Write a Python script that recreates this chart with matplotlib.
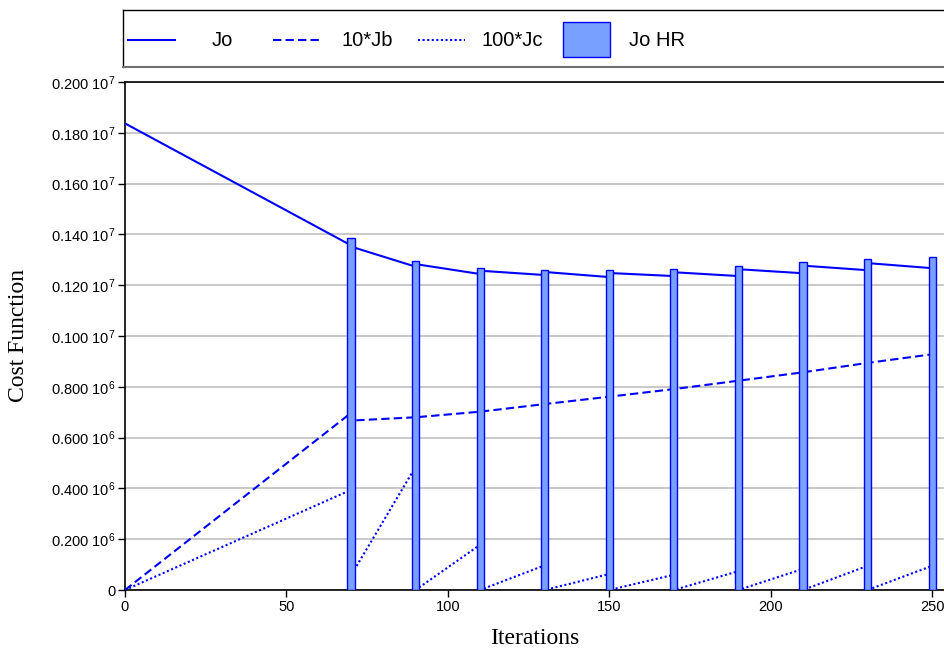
import matplotlib
matplotlib.use('Agg')
from matplotlib import pyplot as plt
from matplotlib.patches import Rectangle

plt.rcParams['font.family'] = ['Liberation Sans', 'DejaVu Sans']
plt.rcParams['mathtext.fontset'] = 'custom'
plt.rcParams['mathtext.rm'] = 'Liberation Sans'

# outer loops: each restart shows up as a repeated iteration number
iterations = [0, 70, 70, 90, 90, 110, 110, 130, 130, 150, 150,
              170, 170, 190, 190, 210, 210, 230, 230, 250]
jo = [1.837e6, 1.357e6, 1.352e6, 1.273e6, 1.283e6, 1.244e6, 1.257e6, 1.240e6, 1.252e6, 1.232e6,
      1.248e6, 1.236e6, 1.251e6, 1.236e6, 1.263e6, 1.247e6, 1.277e6, 1.259e6, 1.287e6, 1.267e6]
jb10 = [0.0, 6.97e5, 6.67e5, 6.80e5, 6.80e5, 7.02e5, 7.02e5, 7.32e5, 7.32e5, 7.61e5,
        7.61e5, 7.91e5, 7.91e5, 8.24e5, 8.24e5, 8.57e5, 8.57e5, 8.94e5, 8.94e5, 9.28e5]
jc100 = [0.0, 3.94e5, 0.57e5, 4.85e5, 0.0, 1.78e5, 0.0, 0.97e5, 0.0, 0.63e5,
         0.0, 0.60e5, 0.0, 0.74e5, 0.0, 0.83e5, 0.0, 0.95e5, 0.0, 0.95e5]

hr_iterations = [70, 90, 110, 130, 150, 170, 190, 210, 230, 250]
jo_hr = [1.385e6, 1.297e6, 1.267e6, 1.260e6, 1.260e6, 1.264e6, 1.277e6, 1.290e6, 1.302e6, 1.310e6]

yticks = [0, 0.2e6, 0.4e6, 0.6e6, 0.8e6, 1.0e6, 1.2e6, 1.4e6, 1.6e6, 1.8e6, 2.0e6]
ytick_labels = ['0', r'0.200 $\mathregular{10^{6}}$', r'0.400 $\mathregular{10^{6}}$',
                r'0.600 $\mathregular{10^{6}}$', r'0.800 $\mathregular{10^{6}}$',
                r'0.100 $\mathregular{10^{7}}$', r'0.120 $\mathregular{10^{7}}$',
                r'0.140 $\mathregular{10^{7}}$', r'0.160 $\mathregular{10^{7}}$',
                r'0.180 $\mathregular{10^{7}}$', r'0.200 $\mathregular{10^{7}}$']
xticks = [0, 50, 100, 150, 200, 250]
legend_labels = ['Jo', '10*Jb', '100*Jc', 'Jo HR']

W, H = 945, 651
fig = plt.figure(figsize=(W / 100, H / 100), dpi=100)
ax = fig.add_axes([125 / W, 1 - 590 / H, 820 / W, 508 / H])

blue = '#0000ff'
bar_face = '#78a0ff'
ax.plot(iterations, jo, color=blue, lw=1.5, zorder=3)
ax.plot(iterations, jb10, color=blue, lw=1.5, ls=(0, (4, 2)), zorder=3)
ax.plot(iterations, jc100, color=blue, lw=1.5, ls=(0, (1, 1.2)), zorder=3)
ax.bar(hr_iterations, jo_hr, width=2.2, color=bar_face, edgecolor=blue, lw=1, zorder=4)

ax.set_xlim(0, 254)
ax.set_ylim(0, 2.0e6)
ax.set_yticks(yticks)
ax.set_yticklabels(ytick_labels)
ax.set_xticks(xticks)
ax.yaxis.grid(True, color='#c4c4c4', lw=1.3)
ax.set_axisbelow(True)
ax.tick_params(labelsize=10.5, length=5, width=1, colors='black', pad=2)
for side in ['left', 'bottom', 'top']:
    ax.spines[side].set_color('black')
    ax.spines[side].set_linewidth(1.2)
ax.spines['right'].set_visible(False)

ax.set_xlabel('Iterations', family='Liberation Serif', fontsize=17, labelpad=10)
ax.set_ylabel('Cost Function', family='Liberation Serif', fontsize=17, labelpad=16)

# legend strip above the plot, equal-width cells with centred labels
lax = fig.add_axes([123 / W, 1 - 67 / H, 830 / W, 57 / H])
lax.set_xlim(0, 830)
lax.set_ylim(0, 57)
lax.set_xticks([])
lax.set_yticks([])
for side in lax.spines:
    lax.spines[side].set_color('black')
    lax.spines[side].set_linewidth(1)
lax.spines['bottom'].set_color('#707070')
lax.spines['bottom'].set_linewidth(1.5)
styles = ['-', (0, (4, 2)), (0, (1, 1.2))]
cell = 145
for i, lab in enumerate(legend_labels):
    x0 = 5 + i * cell
    if i < 3:
        lax.plot([x0, x0 + 47], [27, 27], color=blue, lw=1.5, ls=styles[i])
    else:
        lax.add_patch(Rectangle((x0 - 0.5, 10), 47, 35, facecolor=bar_face, edgecolor=blue, lw=1))
    lax.text(x0 + 47 + 47, 27, lab, fontsize=14.5, ha='center', va='center')

fig.savefig('out.png', dpi=100)
